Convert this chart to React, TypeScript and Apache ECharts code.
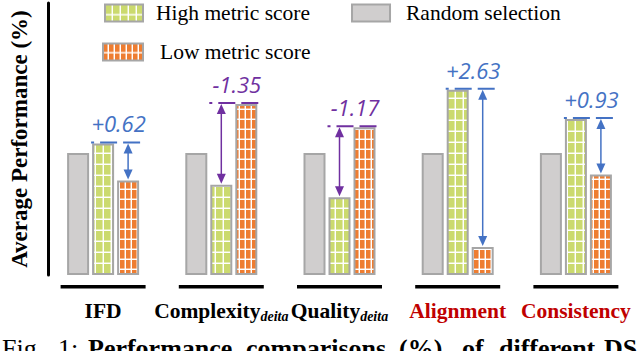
import React, { useEffect, useRef } from 'react';
import * as echarts from 'echarts';

// ---- data ----
const CATEGORIES = ['IFD', 'Complexity', 'Quality', 'Alignment', 'Consistency'];
const SUBSCRIPTS = ['', 'deita', 'deita', '', ''];
const HIGHLIGHTED = ['Alignment', 'Consistency'];
const RANDOM = [2.04, 2.04, 2.04, 2.04, 2.04];
const HIGH = [2.2, 1.51, 1.3, 3.1, 2.61];
const LOW = [1.58, 2.86, 2.47, 0.47, 1.68];
const NAME_RANDOM = 'Random selection';
const NAME_HIGH = 'High metric score';
const NAME_LOW = 'Low metric score';
const Y_TITLE = 'Average Performance (%)';
const CAPTION_WORDS = ['Fig.', '1:', 'Performance', 'comparisons', '(%)', 'of', 'different', 'DS'];

// ---- layout / style constants ----
const CAPTION_X = [2, 58, 88, 246, 399, 462, 499, 604];
const CAPTION_BOLD_FROM = 2;
const Y_MAX = 4.55;
const BAR_W = 22;
const GAP_PX = 3;
const SERIF = 'Liberation Serif';
const SANS = 'Open Sans';
const BLUE = '#4472C4';
const PURPLE = '#7030A0';
const RED = '#C00000';
const GREEN = '#CBDA6E';
const ORANGE = '#EE7D31';
const GRAY = '#D0CECE';
const BORDER = '#A6A6A6';

function makeTile(w: number, h: number, fill: string) {
  const c = document.createElement('canvas');
  c.width = w;
  c.height = h;
  const ctx = c.getContext('2d')!;
  ctx.fillStyle = fill;
  ctx.fillRect(0, 0, w, h);
  ctx.fillStyle = 'rgba(255,255,255,1)';
  ctx.fillRect(w - 1, 0, 1, h);
  ctx.fillRect(0, h - 1, w, 1);
  ctx.fillStyle = 'rgba(255,255,255,0.45)';
  ctx.fillRect(w - 2, 0, 1, h - 1);
  ctx.fillRect(0, h - 2, w - 1, 1);
  return { image: c, repeat: 'repeat', imageWidth: w, imageHeight: h } as any;
}

export default function App() {
  const ref = useRef<HTMLDivElement>(null);

  useEffect(() => {
    if (!ref.current) return;
    const chart = echarts.init(ref.current, null, { renderer: 'svg' });

    const greenPattern = makeTile(8, 11, GREEN);
    const orangePattern = makeTile(6, 10, ORANGE);

    const legendText = { fontFamily: SERIF, fontSize: 21.5, color: '#000' };

    const barBase = {
      type: 'bar',
      barWidth: BAR_W,
      barGap: (GAP_PX / BAR_W) * 100 + '%',
      silent: true,
    };

    const option: any = {
      animation: false,
      backgroundColor: '#fff',
      textStyle: { fontFamily: SERIF },
      grid: { left: 43, right: 5, top: 3, bottom: 76 },
      legend: [
        {
          left: 104,
          top: 2,
          padding: 0,
          itemWidth: 38,
          itemHeight: 17,
          itemGap: 41,
          icon: 'rect',
          selectedMode: false,
          textStyle: legendText,
          data: [
            { name: NAME_HIGH, textStyle: { padding: [0, 0, 0, 8] } },
            { name: NAME_RANDOM, textStyle: { padding: [0, 0, 0, 11] } },
          ],
        },
        {
          left: 102,
          top: 41,
          padding: 0,
          itemWidth: 40,
          itemHeight: 17,
          icon: 'rect',
          selectedMode: false,
          textStyle: legendText,
          data: [{ name: NAME_LOW, textStyle: { padding: [0, 0, 0, 12] } }],
        },
      ],
      xAxis: {
        type: 'category',
        data: CATEGORIES,
        axisLine: { show: false },
        axisTick: { show: false },
        axisLabel: {
          interval: 0,
          margin: 24,
          formatter: (v: string, i: number) => {
            const key = HIGHLIGHTED.includes(v) ? 'r' : 'b';
            return SUBSCRIPTS[i] ? `{${key}|${v}}{s|${SUBSCRIPTS[i]}}` : `{${key}|${v}}`;
          },
          rich: {
            b: { fontFamily: SERIF, fontSize: 21.5, fontWeight: 'bold', color: '#000', lineHeight: 24 },
            r: { fontFamily: SERIF, fontSize: 21.5, fontWeight: 'bold', color: RED, lineHeight: 24 },
            s: {
              fontFamily: SERIF,
              fontSize: 14,
              fontStyle: 'italic',
              fontWeight: 'bold',
              color: '#000',
              lineHeight: 12,
              verticalAlign: 'bottom',
            },
          },
        },
      },
      yAxis: {
        type: 'value',
        min: 0,
        max: Y_MAX,
        offset: -4,
        axisLine: { show: true, lineStyle: { color: '#000', width: 3 } },
        axisTick: { show: false },
        axisLabel: { show: false },
        splitLine: { show: false },
        name: Y_TITLE,
        nameLocation: 'middle',
        nameRotate: 90,
        nameGap: 17,
        nameTextStyle: { fontFamily: SERIF, fontSize: 23, fontWeight: 'bold', color: '#000' },
      },
      series: [
        {
          ...barBase,
          name: NAME_RANDOM,
          data: RANDOM,
          itemStyle: { color: GRAY, borderColor: BORDER, borderWidth: 2 },
        },
        {
          ...barBase,
          name: NAME_HIGH,
          data: HIGH,
          itemStyle: { color: greenPattern, borderColor: BORDER, borderWidth: 2 },
        },
        {
          ...barBase,
          name: NAME_LOW,
          data: LOW,
          itemStyle: { color: orangePattern, borderColor: BORDER, borderWidth: 2 },
        },
        {
          type: 'custom',
          name: 'delta',
          silent: true,
          clip: false,
          z: 10,
          data: CATEGORIES.map((_, i) => [i, HIGH[i], LOW[i]]),
          encode: { x: 0, y: [1, 2] },
          renderItem: (_params: any, api: any) => {
            const i = api.value(0);
            const hi = api.value(1);
            const lo = api.value(2);
            const [cx, yHi] = api.coord([i, hi]);
            const yLo = api.coord([i, lo])[1];
            const y0 = api.coord([i, 0])[1];
            const step = BAR_W + GAP_PX;
            const greenX = cx;
            const orangeX = cx + step;
            const up = hi >= lo;
            const color = up ? BLUE : PURPLE;
            const topY = Math.min(yHi, yLo);
            const lowY = Math.max(yHi, yLo);
            const ax = up ? orangeX : greenX;
            const capL = greenX - BAR_W / 2 - 1;
            const capR = orangeX + BAR_W / 2 + 1;
            const diff = hi - lo;
            const label = (diff > 0 ? '+' : '') + diff.toFixed(2);
            return {
              type: 'group',
              children: [
                {
                  type: 'line',
                  shape: { x1: capL, y1: topY - 1, x2: capR, y2: topY - 1 },
                  style: { stroke: color, lineWidth: 2, lineDash: [17, 6], lineDashOffset: 14 },
                },
                {
                  type: 'line',
                  shape: { x1: ax, y1: topY + 6, x2: ax, y2: lowY - 7 },
                  style: { stroke: color, lineWidth: 1.5 },
                },
                {
                  type: 'polygon',
                  shape: { points: [[ax, topY], [ax - 4.5, topY + 10], [ax + 4.5, topY + 10]] },
                  style: { fill: color },
                },
                {
                  type: 'polygon',
                  shape: { points: [[ax, lowY - 1], [ax - 4.5, lowY - 11], [ax + 4.5, lowY - 11]] },
                  style: { fill: color },
                },
                {
                  type: 'text',
                  x: (greenX + orangeX) / 2 + 3,
                  y: topY - 20,
                  style: {
                    text: label,
                    fill: color,
                    fontFamily: SANS,
                    fontSize: 22,
                    fontStyle: 'italic',
                    align: 'center',
                    verticalAlign: 'middle',
                  },
                },
                {
                  type: 'rect',
                  shape: { x: cx - 42.5, y: y0 + 10, width: 85, height: 3.5 },
                  style: { fill: '#000' },
                },
              ],
            };
          },
        },
      ],
      graphic: CAPTION_WORDS.map((w, k) => ({
        type: 'text',
        x: CAPTION_X[k],
        y: 335,
        silent: true,
        style: {
          text: w,
          fill: '#000',
          fontFamily: SERIF,
          fontSize: 26,
          fontWeight: k >= CAPTION_BOLD_FROM ? 'bold' : 'normal',
          verticalAlign: 'top',
        },
      })),
    };

    chart.setOption(option);
    return () => chart.dispose();
  }, []);

  return (
    <div
      ref={ref}
      style={{ position: 'absolute', left: 0, top: 0, width: 640, height: 351, background: '#fff' }}
    />
  );
}
